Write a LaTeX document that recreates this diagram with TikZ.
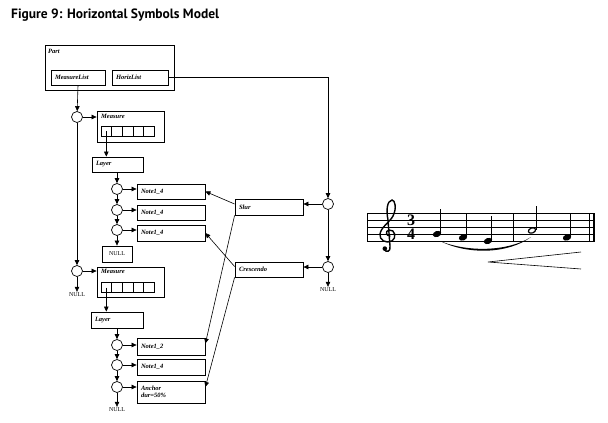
\documentclass[tikz,border=0pt]{standalone}
\usepackage{fontspec}
\setmainfont{Liberation Serif}
\newfontfamily\titlefont{PT Sans}
\usetikzlibrary{arrows.meta}

\begin{document}
\begin{tikzpicture}[x=1pt,y=-1pt,
  box/.style={draw, line width=0.8pt, inner xsep=4pt, inner ysep=0pt, align=left, font=\fontsize{6.5}{7}\selectfont\bfseries\itshape},
  lab/.style={inner sep=0pt, anchor=north west, font=\fontsize{6.5}{7}\selectfont\bfseries\itshape},
  ptr/.style={draw, circle, line width=0.7pt, inner sep=0pt, minimum size=11pt},
  cell/.style={draw, line width=0.6pt, inner sep=0pt, minimum width=10.6pt, minimum height=10pt},
  arr/.style={line width=0.6pt, -{Triangle[length=5pt,width=4.5pt]}},
  nul/.style={inner sep=1pt, font=\fontsize{6}{6.5}\selectfont}]
\useasboundingbox (0,0) rectangle (608,423);
\node[anchor=west, inner sep=0pt, font=\titlefont\fontsize{13.5}{15}\selectfont\bfseries] (title) at (11,15) {Figure 9: Horizontal Symbols Model};
\node[box, minimum width=129pt, minimum height=45pt] (part) at (109.5,67.5) {};
\node[lab] (partlab) at (48,49) {Part};
\node[box, text width=46pt, minimum height=15pt] (ml) at (78,77.5) {MeasureList};
\node[box, text width=48pt, minimum height=15pt] (hl) at (140,77.5) {HorizList};
\node[ptr] (c1) at (77,117) {};
\node[box, minimum width=67pt, minimum height=31pt] (m1) at (130.5,126.5) {};
\node[lab] (m1lab) at (101,114) {Measure};
\foreach \i in {1,...,5} \node[cell] (m1c\i) at (95.7+10.6*\i,131) {};
\node[box, text width=43pt, minimum height=15pt] (l1) at (117.5,164.5) {Layer};
\node[ptr] (d1) at (117,189) {};
\node[ptr] (d2) at (117,210) {};
\node[ptr] (d3) at (117,230) {};
\node[box, text width=60pt, minimum height=15pt] (n1) at (171,191.5) {Note1\_4};
\node[box, text width=60pt, minimum height=15pt] (n2) at (171,212.5) {Note1\_4};
\node[box, text width=60pt, minimum height=16pt] (n3) at (171,233) {Note1\_4};
\node[draw, line width=0.8pt, nul, minimum width=30pt, minimum height=16pt] (null1) at (117,254) {NULL};
\node[ptr] (c2) at (77,271) {};
\node[nul] (null2) at (77,295) {NULL};
\node[box, minimum width=67pt, minimum height=30pt] (m2) at (130.5,282) {};
\node[lab] (m2lab) at (101,269) {Measure};
\foreach \i in {1,...,5} \node[cell] (m2c\i) at (95.7+10.6*\i,287.5) {};
\node[box, text width=44pt, minimum height=16pt] (l2) at (117,320) {Layer};
\node[ptr] (f1) at (117,345) {};
\node[ptr] (f2) at (117,365) {};
\node[ptr] (f3) at (117,387) {};
\node[box, text width=60pt, minimum height=17pt] (p1) at (171,346.5) {Note1\_2};
\node[box, text width=60pt, minimum height=16pt] (p2) at (171,367) {Note1\_4};
\node[box, text width=60pt, minimum height=22pt] (p3) at (171,392) {Anchor\\dur=50\%};
\node[nul] (null3) at (117,410) {NULL};
\node[ptr] (s1) at (328,204) {};
\node[ptr] (s2) at (328,267) {};
\node[box, text width=60pt, minimum height=16pt] (slur) at (269,207) {Slur};
\node[box, text width=60pt, minimum height=15pt] (cresc) at (269,269.5) {Crescendo};
\node[nul] (null4) at (328,290) {NULL};
\draw[arr] (ml.south) -- (c1);
\draw[arr] (c1) -- (c1 -| m1.west);
\draw[arr] (c1) -- (c2);
\draw[arr] (m1c1.center) -- (m1c1.center |- l1.north);
\draw[arr] (l1.south -| d1) -- (d1);
\draw[arr] (d1) -- (d2);
\draw[arr] (d2) -- (d3);
\draw[arr] (d3) -- (null1);
\draw[arr] (d1) -- (d1 -| n1.west);
\draw[arr] (d2) -- (d2 -| n2.west);
\draw[arr] (d3) -- (d3 -| n3.west);
\draw[arr] (c2) -- (c2 -| m2.west);
\draw[arr] (c2) -- (null2);
\draw[arr] (m2c1.center) -- (m2c1.center |- l2.north);
\draw[arr] (l2.south -| f1) -- (f1);
\draw[arr] (f1) -- (f2);
\draw[arr] (f2) -- (f3);
\draw[arr] (f3) -- (null3);
\draw[arr] (f1) -- (f1 -| p1.west);
\draw[arr] (f2) -- (f2 -| p2.west);
\draw[arr] (f3) -- (f3 -| p3.west);
\draw[arr] (hl.east) -| (s1);
\draw[arr] (s1) -- (slur.east |- s1);
\draw[arr] (s1) -- (s2);
\draw[arr] (s2) -- (cresc.east |- s2);
\draw[arr] (s2) -- (null4);
\draw[arr] ([yshift=3pt]slur.west) -- (n1.east);
\draw[arr] (slur.south west) -- ([yshift=3pt]p1.east);
\draw[arr] ([yshift=3pt]cresc.west) -- (n3.east);
\draw[arr] (cresc.south west) -- ([yshift=5pt]p3.east);
\foreach \y in {213,220,227,234,241} \draw[line width=0.5pt] (367,\y) -- (595,\y);
\draw[line width=0.5pt] (367,213) -- (367,241);
\draw[line width=0.5pt] (513,213) -- (513,241);
\draw[line width=0.5pt] (589,213) -- (589,241);
\draw[line width=2pt] (593.5,213) -- (593.5,241);
\draw[line width=1.4pt, line cap=round] (390,236) .. controls (386,236) and (385,231) .. (389,230)
  .. controls (395,229) and (397,238) .. (392,241)
  .. controls (386,244) and (379,240) .. (380,234)
  .. controls (381,227) and (390,222) .. (393,216)
  .. controls (397,208) and (395,200) .. (392,200)
  .. controls (387,201) and (386,210) .. (388,220)
  -- (390,246) .. controls (391,252) and (386,253) .. (384,249);
\fill (384.8,248.6) circle (2.3);
\node[inner sep=0pt, align=center, font=\fontsize{16}{14}\selectfont\bfseries] (tsig) at (411,227) {3\\4};
\foreach \x/\y in {437/234,463/237.5,488/241,567/237.5} {
  \fill[rotate around={20:(\x,\y)}] (\x,\y) ellipse (4.3 and 3);
  \draw[line width=0.7pt] (\x+3.8,\y-1) -- (\x+3.8,\y-25);
}
\draw[line width=1.2pt, rotate around={20:(532,230.5)}] (532,230.5) ellipse (3.8 and 2.5);
\draw[line width=0.7pt] (536.2,229.5) -- (536.2,205.5);
\fill (440,241) .. controls (468,255) and (508,254) .. (531,237) .. controls (508,251.5) and (468,252.5) .. cycle;
\draw[line width=0.6pt] (581,252) -- (488,262) -- (581,269);
\end{tikzpicture}
\end{document}
